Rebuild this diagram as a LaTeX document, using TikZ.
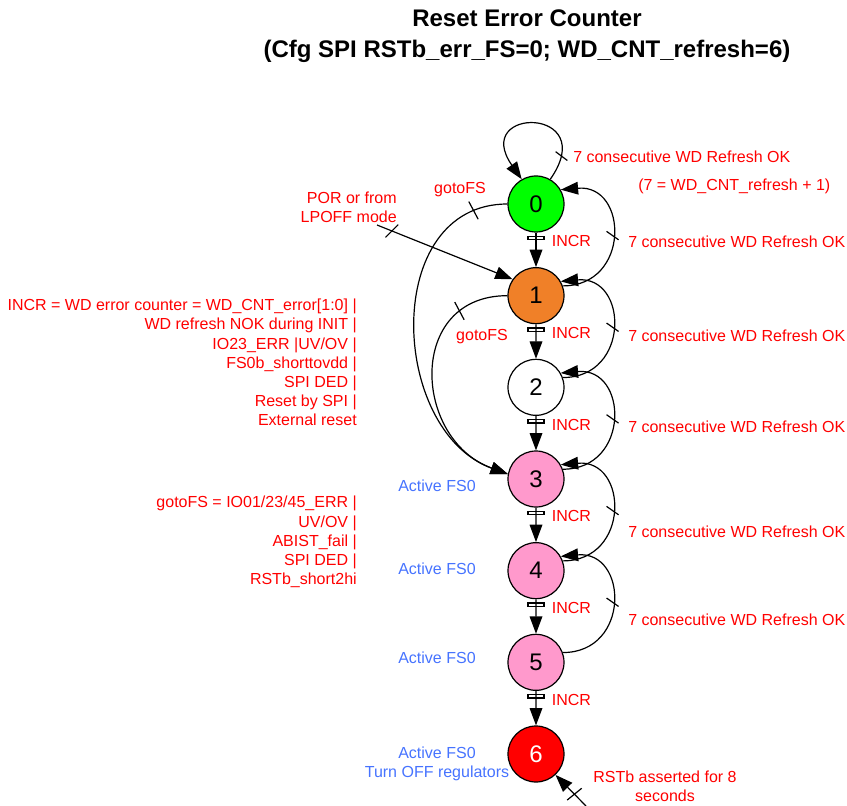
\documentclass[tikz,border=0pt]{standalone}
\usepackage{fontspec}
\setmainfont{Liberation Sans}
\usetikzlibrary{arrows.meta}
\definecolor{okgreen}{RGB}{0,255,0}
\definecolor{incrorange}{RGB}{240,128,40}
\definecolor{fspink}{RGB}{255,153,204}
\definecolor{rstred}{RGB}{255,0,0}
\definecolor{fsblue}{RGB}{70,115,255}

\begin{document}
\begin{tikzpicture}
[x = 0.75pt, y = -0.75pt,
level distance = 68.75pt,
state/.style = {draw, circle, line width = 0.9pt, minimum size = 42pt, inner sep = 0pt, font = \fontsize{18}{18}\selectfont},
cond/.style = {text = red, font = \fontsize{12}{14.4}\selectfont, inner sep = 0pt},
fsinfo/.style = {text = fsblue, font = \fontsize{12}{14.4}\selectfont, inner sep = 0pt, align = center},
trans/.style = {draw, line width = 0.9pt, -{Triangle[length = 13pt, width = 9.5pt]}},
edge from parent/.style = {trans},
tickmark/.style = {draw, line width = 0.9pt, rectangle, inner sep = 0pt, minimum width = 0pt, minimum height = 11pt, rotate = #1},
incrtick/.style = {draw, line width = 1pt, rectangle, inner sep = 0pt, minimum width = 12pt, minimum height = 2.5pt, pos = .16},
incr/.style = {cond, pos = .25, anchor = west, xshift = 11.5pt},
]
\useasboundingbox (0,0) rectangle (847,806);
\node [font = \fontsize{18}{23}\selectfont\bfseries, align = center] (title) at (527,36) {Reset Error Counter\\(Cfg SPI RSTb\_err\_FS=0; WD\_CNT\_refresh=6)};
\node [state, fill = okgreen] (s0) at (536,204) {0}
child {node [state, fill = incrorange] (s1) {1}
child {node [state, fill = white] (s2) {2}
child {node [state, fill = fspink] (s3) {3}
child {node [state, fill = fspink] (s4) {4}
child {node [state, fill = fspink] (s5) {5}
child {node [state, fill = rstred, text = white] (s6) {6}
edge from parent node [incrtick] (t56) {} node [incr] (i56) {INCR}}
edge from parent node [incrtick] (t45) {} node [incr] (i45) {INCR}}
edge from parent node [incrtick] (t34) {} node [incr] (i34) {INCR}}
edge from parent node [incrtick] (t23) {} node [incr] (i23) {INCR}}
edge from parent node [incrtick] (t12) {} node [incr] (i12) {INCR}}
edge from parent node [incrtick] (t01) {} node [incr] (i01) {INCR}};
\draw [trans] (s0.60) to [out = 55, in = 125, looseness = 8] node [tickmark = 53, pos = .12] (t00) {} (s0.120);
\draw [trans] (s1.20) to [out = 0, in = 5, looseness = 1.8] node [tickmark = 55, pos = .5] (t10) {} (s0.30);
\draw [trans] (s2.20) to [out = 0, in = 5, looseness = 1.8] node [tickmark = 55, pos = .5] (t21) {} (s1.30);
\draw [trans] (s3.20) to [out = 0, in = 5, looseness = 1.8] node [tickmark = 55, pos = .5] (t32) {} (s2.30);
\draw [trans] (s4.20) to [out = 0, in = 5, looseness = 1.8] node [tickmark = 55, pos = .5] (t43) {} (s3.30);
\draw [trans] (s5.20) to [out = 0, in = 5, looseness = 1.8] node [tickmark = 55, pos = .5] (t54) {} (s4.30);
\draw [trans] (s0.180) to [out = 180, in = 160, looseness = 1.2] node [tickmark = 28, minimum height = 15pt, pos = .1] (g03) {} (s3.170);
\draw [trans] (s1.180) to [out = 180, in = 160, looseness = 1.45] node [tickmark = 28, minimum height = 15pt, pos = .2] (g13) {} (s3.170);
\coordinate (por) at (377,225);
\draw [trans] (por) -- node [tickmark = -45, minimum height = 13.5pt, pos = .11] (tpor) {} (s1.145);
\coordinate (rst) at (586,806);
\draw [trans] (rst) -- node [tickmark = -51, minimum height = 14pt, pos = .38] (trst) {} (s6.-47);
\node [cond, anchor = west] (ok00) at (573,157) {7 consecutive WD Refresh OK};
\node [cond, anchor = west] (okeq) at (638,186) {(7 = WD\_CNT\_refresh + 1)};
\node [cond, anchor = west] (ok10) at (628,242) {7 consecutive WD Refresh OK};
\node [cond, anchor = west] (ok21) at (628,336) {7 consecutive WD Refresh OK};
\node [cond, anchor = west] (ok32) at (628,427) {7 consecutive WD Refresh OK};
\node [cond, anchor = west] (ok43) at (628,532) {7 consecutive WD Refresh OK};
\node [cond, anchor = west] (ok54) at (628,620) {7 consecutive WD Refresh OK};
\node [cond] (gofs0) at (460,190) {gotoFS};
\node [cond] (gofs1) at (482,337) {gotoFS};
\node [cond, anchor = east, align = right] (porlbl) at (397,207) {POR or from\\LPOFF mode};
\node [cond, anchor = east, align = right] (incrdef) at (357,362.5) {INCR = WD error counter = WD\_CNT\_error[1:0] |\\WD refresh NOK during INIT |\\IO23\_ERR |UV/OV |\\FS0b\_shorttovdd |\\SPI DED |\\Reset by SPI |\\External reset};
\node [cond, anchor = east, align = right] (gofsdef) at (357,542) {gotoFS = IO01/23/45\_ERR |\\UV/OV |\\ABIST\_fail |\\SPI DED |\\RSTb\_short2hi};
\node [fsinfo] (fs3) at (437,486) {Active FS0};
\node [fsinfo] (fs4) at (437,569) {Active FS0};
\node [fsinfo] (fs5) at (437,658) {Active FS0};
\node [fsinfo] (fs6) at (437,763.5) {Active FS0\\Turn OFF regulators};
\node [cond, align = center] (rstlbl) at (665,786) {RSTb asserted for 8\\seconds};
\end{tikzpicture}
\end{document}
